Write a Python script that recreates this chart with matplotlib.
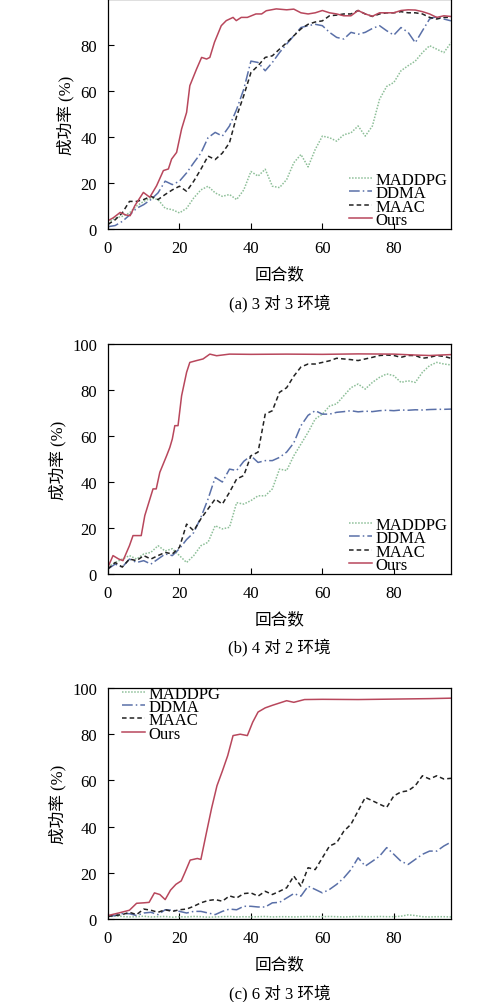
import matplotlib
matplotlib.use('Agg')
import matplotlib.pyplot as plt

plt.rcParams['font.family'] = ['Liberation Serif', 'Noto Sans CJK SC']
plt.rcParams['font.size'] = 12

# (a) 3 对 3
xa = list(range(0, 97, 2))
maddpg_a = [2.6, 4.8, 5.5, 7, 10, 12, 13.5, 12.8, 9, 8.4, 7, 9, 13.5, 17, 18.6, 15.7, 14.2, 15, 12.8, 17,
            25, 23, 26, 18.6, 18, 21.5, 28.8, 32.4, 27, 34.6, 40.4, 39.7, 38.2, 41, 41.8, 44.8, 40.4, 44.8,
            56.4, 62, 63.7, 68.8, 71, 73, 76.7, 79.7, 78.2, 76.7, 81]
ddma_a = [1, 1.5, 3.3, 6, 9, 10.6, 12.8, 15.7, 20.8, 19.3, 20.8, 24.4, 28.8, 33, 39.7, 42, 40.4, 44.8, 52,
          60.8, 73, 72.4, 68.8, 72.4, 76.7, 80.4, 84, 87.6, 88.4, 89, 88.4, 85.5, 83.3, 82.6, 85.5, 84.7,
          85.5, 87.2, 88.4, 86.2, 84.3, 87.6, 85.5, 81, 86.2, 91.3, 92.4, 91.3, 90.5]
maac_a = [2, 4, 7, 12, 12, 12.8, 14.2, 12.8, 15, 17, 18.6, 16.4, 20.8, 26, 31.7, 30.2, 33, 37.5, 49, 58,
          68, 71, 74.6, 75.3, 78.2, 81, 84, 87, 89, 90, 90.5, 92.7, 93, 93.5, 93.5, 95, 93.5, 92.4, 93.5,
          94, 94, 94.5, 94, 94, 93.5, 92, 91.3, 92, 92]
ours_a_x = [0, 1.5, 3.4, 5, 6.2, 7.5, 9.9, 11.7, 13.6, 15.5, 16.9, 17.8, 19.2, 20.6, 22, 22.9, 24.8, 26.2,
            27.6, 28.5, 29.8, 31.7, 33.1, 35, 35.9, 37.3, 39, 41.4, 43, 44.3, 47.1, 50, 52, 54, 56, 58, 60,
            62, 64, 66, 68, 70, 72, 74, 76, 78, 80, 82, 84, 86, 88, 90, 92, 94, 96]
ours_a = [3.6, 4.9, 7.2, 6.1, 5.8, 10.1, 15.9, 13.8, 18.8, 25.4, 26.1, 30.4, 33.3, 43.5, 50.7, 62.3, 69.6,
          74.6, 73.9, 74.6, 81.2, 88.4, 90.6, 92, 90.6, 92, 92, 93.5, 93.5, 94.9, 95.7, 95.3, 95.6, 94,
          93.5, 94, 95, 94, 93.5, 92.7, 92.7, 95, 93.5, 92.5, 94, 94, 94, 95, 95.3, 95.2, 94.5, 93.5, 92,
          92.7, 92.4]

# (b) 4 对 2
xb = list(range(0, 97, 2))
maddpg_b = [3, 5, 6.5, 8, 6.5, 8.7, 9.4, 12.3, 10, 11, 8, 5, 8, 12.3, 13.8, 21, 19.6, 20.3, 31, 30.4,
            31.9, 34, 34, 37, 45.6, 45, 51.4, 56.5, 61.6, 67.4, 69.5, 73, 74, 77.5, 81, 82.6, 80.4, 83.3,
            85.5, 87, 86.2, 83.3, 84, 83.3, 87.7, 90.6, 92, 91.3, 90.9]
ddma_b = [2.2, 4.3, 3, 6.5, 5, 5.8, 4.3, 6.5, 8.7, 8, 11, 15, 18, 24.6, 32.6, 42, 40, 45.6, 45, 49, 51.4,
          48.5, 49.3, 49.3, 50.7, 53, 57, 64.5, 69, 71, 69.5, 69.5, 70.3, 70.6, 71, 70.5, 70.8, 70.6,
          71, 71.2, 71, 71.3, 71.2, 71.4, 71.3, 71.5, 71.6, 71.6, 71.7]
maac_b = [2.2, 5, 3, 6.5, 5.8, 8, 6.5, 8, 9.4, 8.7, 11.6, 21.7, 18.8, 24, 28.3, 32.6, 30.4, 35.5, 41.3,
          42.8, 51.4, 53, 69.5, 71, 79, 81, 86, 90, 91.3, 91.3, 92, 92.7, 93.8, 93.5, 93.2, 92.8, 93.5,
          94.2, 95, 95.2, 95, 94.2, 95, 95, 93.8, 94.2, 95, 94.6, 93.8]
ours_b_x = [0, 1.4, 3, 4.2, 6, 7, 9.3, 10.3, 12.6, 13.5, 14.5, 16.4, 17.3, 18, 18.7, 19.6, 20.6, 22,
            22.9, 24.8, 26.6, 28.5, 30.4, 34, 40, 50, 60, 70, 80, 86, 90, 96]
ours_b = [3, 8, 6.5, 5.8, 12.3, 16.7, 16.7, 25.4, 37, 37, 44.2, 51.4, 55, 58.7, 64.5, 64.5, 77.5, 87.7,
          92, 92.8, 93.5, 95.6, 94.9, 95.6, 95.5, 95.6, 95.5, 95.7, 95.6, 95.2, 95.0, 95.4]

# (c) 6 对 3
xc = list(range(0, 97, 2))
maddpg_c = [1.0, 1.3, 1.1, 0.9, 1.0, 1.2, 0.9, 1.0, 1.1, 0.8, 1.0, 0.9, 1.1, 1.0, 0.8, 0.9, 1.0, 1.1,
            0.9, 1.0, 0.9, 1.0, 1.1, 0.9, 1.0, 1.0, 0.9, 1.0, 1.1, 1.0, 1.0, 1.1, 1.0, 0.9, 1.0, 1.1,
            1.0, 1.0, 1.1, 1.0, 1.0, 1.2, 1.8, 1.5, 1.0, 0.9, 1.0, 1.0, 0.9]
ddma_c = [1.2, 1.5, 2.3, 2.3, 1.5, 2.6, 2.9, 1.9, 4, 3.8, 3.3, 2.6, 3.3, 3.3, 2.6, 1.9, 3.3, 4.3, 4, 5.5,
          5.5, 5.2, 5.2, 7, 7.2, 9.1, 11, 9.9, 14.2, 12.8, 11.3, 12.8, 15, 17.8, 21.4, 26.5, 22.9, 25,
          27.2, 30.9, 28, 25, 23.6, 25.8, 28, 29.4, 29.4, 31.6, 33.3]
maac_c = [1.2, 1.5, 1.9, 2.9, 1.9, 4.3, 3.8, 2.9, 4, 3.3, 4, 4.3, 5.5, 7, 8, 8.4, 7.7, 10, 9.1, 11,
          11.3, 9.9, 12, 10.6, 12, 13.5, 18.6, 14.2, 22.2, 21.4, 26.5, 31.6, 33, 38, 41, 46.8, 52.6,
          51.2, 49.7, 48.3, 53.3, 55, 55.5, 57.7, 62, 60.6, 62, 60.6, 60.9]
ours_c_x = [0, 3, 6, 8, 10, 11.5, 13, 14.5, 16, 17.5, 19, 20.5, 21.5, 23, 25, 26, 27.5, 29, 30.5, 32,
            33.5, 35, 37, 39, 40.5, 42, 44, 46, 48, 50, 52, 55, 60, 70, 80, 90, 96]
ours_c = [1.5, 2.6, 3.8, 6.8, 7.0, 7.2, 11.3, 10.6, 8.4, 12.5, 15.0, 16.5, 20, 25.5, 26.2, 25.8, 37, 48,
          57.7, 64, 70.7, 79.4, 80, 79.4, 85.2, 89.6, 91.4, 92.5, 93.5, 94.5, 93.8, 95, 95.1, 95, 95.2,
          95.4, 95.6]

names = ['MADDPG', 'DDMA', 'MAAC', 'Ours']
colors = ['#8dbf98', '#5a70a8', '#222222', '#b8475c']
styles = [(0, (1, 1)), (0, (7, 2, 1, 2)), (0, (3, 2)), '-']

panels = [
    ([xa, xa, xa, ours_a_x], [maddpg_a, ddma_a, maac_a, ours_a], '(a) 3 对 3 环境',
     'lower right', (1.0, -0.01)),
    ([xb, xb, xb, ours_b_x], [maddpg_b, ddma_b, maac_b, ours_b], '(b) 4 对 2 环境',
     'lower right', (1.0, -0.01)),
    ([xc, xc, xc, ours_c_x], [maddpg_c, ddma_c, maac_c, ours_c], '(c) 6 对 3 环境',
     'upper left', (0.03, 1.025)),
]

fig = plt.figure(figsize=(5, 10.03), dpi=100)
H = 1003.0
tops = [0, 345, 689]
bottoms = [230, 575, 920]
caption_y = [303, 647, 993]

for i, (xs, ys, cap, loc, anchor) in enumerate(panels):
    ax = fig.add_axes([108 / 500, 1 - bottoms[i] / H, 343 / 500, (bottoms[i] - tops[i]) / H])
    for x, y, n, c, s in zip(xs, ys, names, colors, styles):
        ax.plot(x, y, color=c, linestyle=s, lw=1.1, label=n)
    ax.set_xlim(0, 96)
    ax.set_ylim(0, 100)
    ax.set_xticks([0, 20, 40, 60, 80])
    if i == 0:
        ax.set_yticks([0, 20, 40, 60, 80])
    else:
        ax.set_yticks([0, 20, 40, 60, 80, 100])
    ax.tick_params(direction='in', length=4, width=0.8, pad=8, labelsize=12)
    for sp in ax.spines.values():
        sp.set_linewidth(0.9)
    ax.set_xlabel('回合数', fontsize=12, labelpad=7)
    ax.set_ylabel('成功率 (%)', fontsize=12, labelpad=4)
    ax.legend(loc=loc, bbox_to_anchor=anchor, frameon=False, fontsize=12, handlelength=1.4,
              handletextpad=0.2, labelspacing=-0.16, borderaxespad=0.0, borderpad=0.2)
    fig.text(0.5 * (108 + 451) / 500, 1 - caption_y[i] / H, cap, ha='center', va='center', fontsize=12)

fig.savefig('out.png', dpi=100)
